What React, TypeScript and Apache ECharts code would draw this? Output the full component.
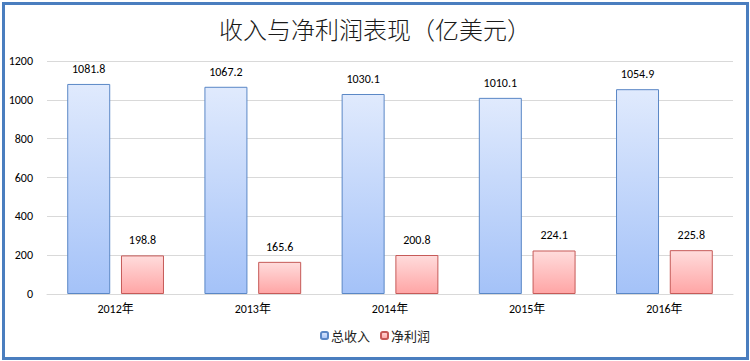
import React, { useEffect, useRef } from "react";
import * as echarts from "echarts";

const categories = ["2012年", "2013年", "2014年", "2015年", "2016年"];
const revenue = [1081.8, 1067.2, 1030.1, 1010.1, 1054.9];
const netProfit = [198.8, 165.6, 200.8, 224.1, 225.8];
const yTicks = { min: 0, max: 1200, interval: 200 };

export default function App() {
  const ref = useRef<HTMLDivElement>(null);
  useEffect(() => {
    document.body.style.margin = "0";
    const chart = echarts.init(ref.current!, null, { renderer: "svg" });
    const font = "Calibri, 'Liberation Sans', 'Noto Sans CJK SC', sans-serif";
    chart.setOption({
      animation: false,
      backgroundColor: "#fff",
      title: {
        text: "收入与净利润表现（亿美元）",
        left: "center",
        top: 11,
        textStyle: {
          fontFamily: "'Noto Sans CJK SC', sans-serif",
          fontWeight: 300,
          fontSize: 24,
          color: "#1a1a1a",
        },
      },
      legend: {
        bottom: 14,
        left: "center",
        itemWidth: 7,
        itemHeight: 7,
        itemGap: 10,
        textStyle: { fontFamily: "'Noto Sans CJK SC', sans-serif", fontSize: 13, color: "#222", padding: [0, 0, 0, -2] },
        data: ["总收入", "净利润"],
      },
      grid: { left: 47, right: 17, top: 61, bottom: 67 },
      xAxis: {
        type: "category",
        data: categories,
        axisLine: { lineStyle: { color: "#d9d9d9" } },
        axisTick: { show: false },
        axisLabel: { color: "#000", fontSize: 12, fontFamily: font, margin: 9 },
      },
      yAxis: {
        type: "value",
        min: yTicks.min,
        max: yTicks.max,
        interval: yTicks.interval,
        axisLine: { show: false },
        axisTick: { show: false },
        splitLine: { lineStyle: { color: "#d9d9d9" } },
        axisLabel: { color: "#000", fontSize: 12, fontFamily: font, margin: 14, formatter: (v: number) => String(v) },
      },
      series: [
        {
          name: "总收入",
          type: "bar",
          data: revenue,
          barWidth: 43,
          barGap: "25%",
          itemStyle: {
            color: new echarts.graphic.LinearGradient(0, 0, 0, 1, [
              { offset: 0, color: "#e0eafd" },
              { offset: 1, color: "#a4c2f8" },
            ]),
            borderColor: "#5a87c6",
            borderWidth: 1,
          },
          label: { show: true, position: "top", distance: 9, color: "#000", fontSize: 12, fontFamily: font },
        },
        {
          name: "净利润",
          type: "bar",
          data: netProfit,
          barWidth: 43,
          itemStyle: {
            color: new echarts.graphic.LinearGradient(0, 0, 0, 1, [
              { offset: 0, color: "#ffdcdc" },
              { offset: 1, color: "#ffa5a5" },
            ]),
            borderColor: "#c65a58",
            borderWidth: 1,
          },
          label: { show: true, position: "top", distance: 9, color: "#000", fontSize: 12, fontFamily: font },
        },
      ],
    });
    return () => chart.dispose();
  }, []);
  return (
    <div style={{ position: "fixed", left: 0, top: 0, width: 750, height: 361, background: "#fff" }}>
      <div ref={ref} style={{ position: "absolute", left: 0, top: 0, width: 750, height: 361 }} />
      <div
        style={{
          position: "absolute",
          left: 2,
          top: 2,
          width: 741,
          height: 352,
          border: "3px solid #4a7ebf",
          pointerEvents: "none",
        }}
      />
    </div>
  );
}
